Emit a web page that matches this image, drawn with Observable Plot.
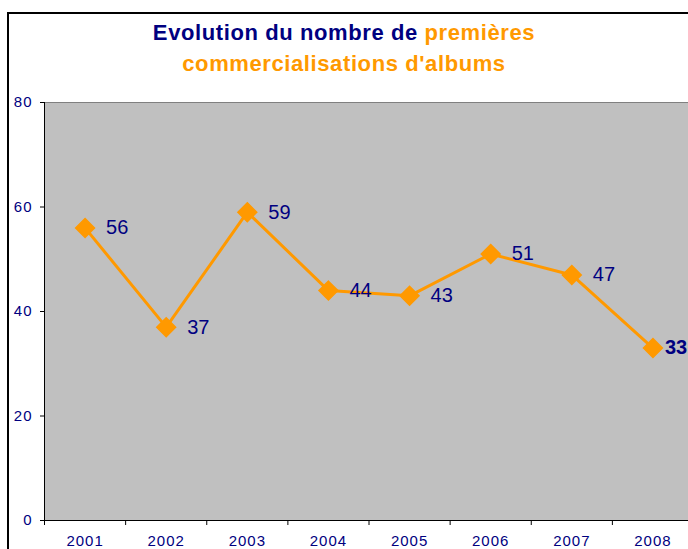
<!DOCTYPE html>
<html>
<head>
<meta charset="utf-8">
<script src="https://cdn.jsdelivr.net/npm/d3@7"></script>
<script src="https://cdn.jsdelivr.net/npm/@observablehq/plot@0.6"></script>
<style>
  html, body { margin: 0; padding: 0; background: #fff; overflow: hidden; }
  #wrap { position: relative; width: 688px; height: 549px; overflow: hidden; font-family: "Liberation Sans", Arial, sans-serif; }
  #border { position: absolute; left: 7px; top: 12px; width: 800px; height: 700px; border-left: 2px solid #000; border-top: 2px solid #000; }
  #title { position: absolute; left: 0; top: 17px; width: 688px; text-align: center; font-weight: bold; font-size: 22px; letter-spacing: 0.6px; line-height: 31px; color: #000080; }
  #title .o { color: #FF9900; }
  #chart { position: absolute; left: 0; top: 0; }
  #chart g[aria-label="y-axis tick label"] text,
  #chart g[aria-label="x-axis tick label"] text { letter-spacing: 1px; }
</style>
</head>
<body>
<div id="wrap">
  <div id="border"></div>
  <div id="chart"></div>
  <div id="title">Evolution du nombre de <span class="o">premières</span><br><span class="o">commercialisations d'albums</span></div>
</div>
<script>
const years = [2001, 2002, 2003, 2004, 2005, 2006, 2007, 2008];
const values = [56, 37, 59, 44, 43, 51, 47, 33];
const yTicks = [0, 20, 40, 60, 80];
const xBoundaries = [2000.5, 2001.5, 2002.5, 2003.5, 2004.5, 2005.5, 2006.5, 2007.5, 2008.5];

const data = years.map((year, i) => ({year, value: values[i], last: i === years.length - 1}));

const navy = "#000080";
const orange = "#FF9900";

const chart = Plot.plot({
  width: 688,
  height: 549,
  marginTop: 102,
  marginBottom: 29,
  marginLeft: 44,
  marginRight: 0,
  style: {background: "transparent", fontFamily: "'Liberation Sans', Arial, sans-serif", overflow: "visible"},
  x: {type: "linear", domain: [2000.5, 2008.5], range: [44, 693]},
  y: {domain: [0, 80], range: [520, 102]},
  marks: [
    Plot.frame({fill: "#C0C0C0", stroke: "#808080", strokeWidth: 1}),
    Plot.ruleY([0], {stroke: "#000", strokeWidth: 1}),
    Plot.ruleX([2000.5], {stroke: "#000", strokeWidth: 1}),
    Plot.axisY({ticks: yTicks, tickSize: 4, tickPadding: 8, stroke: "#000", fill: navy, fontSize: 15, label: null}),
    Plot.axisX({ticks: xBoundaries, tickSize: 5, tickFormat: () => "", stroke: "#000", label: null}),
    Plot.axisX({ticks: years, tickSize: 0, tickPadding: 15, tickFormat: d => String(d), fill: navy, fontSize: 15, label: null}),
    Plot.line(data, {x: "year", y: "value", stroke: orange, strokeWidth: 3}),
    Plot.dot(data, {x: "year", y: "value", symbol: "diamond2", r: 8.5, fill: orange, stroke: orange}),
    Plot.text(data.filter(d => !d.last), {x: "year", y: "value", text: d => String(d.value), dx: 21, textAnchor: "start", fill: navy, fontSize: 20}),
    Plot.text(data.filter(d => d.last), {x: "year", y: "value", text: d => String(d.value), dx: 12, textAnchor: "start", fill: navy, fontSize: 20, fontWeight: "bold"})
  ]
});
document.getElementById("chart").appendChild(chart);
</script>
</body>
</html>
